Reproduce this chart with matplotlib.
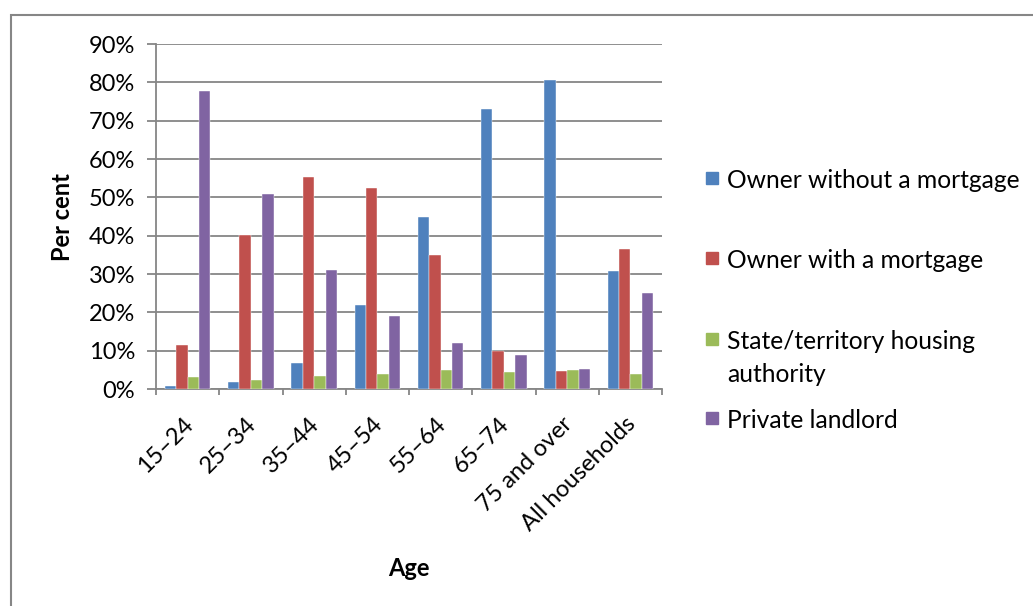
import numpy as np
import matplotlib
matplotlib.use("Agg")
import matplotlib.pyplot as plt
from matplotlib.patches import Rectangle

ages = ["15–24", "25–34", "35–44", "45–54", "55–64", "65–74",
        "75 and over", "All households"]
series_names = ["Owner without a mortgage", "Owner with a mortgage",
                "State/territory housing\nauthority", "Private landlord"]
no_mortgage = [0.7, 1.7, 6.8, 22.0, 44.9, 73.0, 80.5, 30.9]
with_mortgage = [11.6, 40.2, 55.3, 52.5, 35.0, 9.8, 4.8, 36.6]
state_housing = [3.1, 2.3, 3.5, 3.9, 4.9, 4.5, 4.9, 3.8]
private_landlord = [77.8, 51.0, 31.0, 19.1, 11.9, 8.9, 5.3, 25.0]
yticks = [0, 10, 20, 30, 40, 50, 60, 70, 80, 90]

colors = ["#4F81BD", "#C0504D", "#9BBB59", "#8064A2"]
grid_col = "#868686"

plt.rcParams['font.family'] = ['Lato', 'DejaVu Sans']

W, H = 1033, 606
fig = plt.figure(figsize=(W / 100, H / 100), dpi=100)
ax = fig.add_axes([156 / W, 1 - 389 / H, (662 - 156) / W, (389 - 44) / H])

# outer chart frame (runs off the right and bottom edge)
fig.patches.append(Rectangle((11 / W, -0.1), 1.2, 1 - 15 / H + 0.1,
                             transform=fig.transFigure, fill=False,
                             edgecolor=grid_col, linewidth=1.5))

all_vals = [no_mortgage, with_mortgage, state_housing, private_landlord]
x = np.arange(len(ages))
bw = 0.18
for i, vals in enumerate(all_vals):
    ax.bar(x + (i - 1.5) * bw, vals, width=bw, color=colors[i],
           edgecolor="white", linewidth=0.3, zorder=3)

ax.set_xlim(-0.5, len(ages) - 0.5)
ax.set_ylim(0, 90)
ax.set_yticks(yticks)
ax.set_yticklabels([f"{t}%" for t in yticks], fontsize=17)
ax.yaxis.grid(True, color=grid_col, linewidth=1.3, zorder=0)
ax.tick_params(axis='y', length=6.5, width=1.3, color=grid_col, pad=8.5)

ax.set_xticks(x + 0.03)
ax.set_xticklabels(ages, fontsize=17, rotation=45, ha='right',
                   va='center', rotation_mode='anchor')
ax.tick_params(axis='x', which='major', length=0, pad=23)
ax.set_xticks(np.arange(len(ages) + 1) - 0.5, minor=True)
ax.tick_params(axis='x', which='minor', length=4, width=1.3, color=grid_col)

for s in ['top', 'right']:
    ax.spines[s].set_visible(False)
for s in ['left', 'bottom']:
    ax.spines[s].set_color(grid_col)
    ax.spines[s].set_linewidth(1.3)

fig.text(62 / W, 1 - 217 / H, "Per cent", rotation=90, ha='center',
         va='center', fontsize=17, fontweight='bold')
fig.text(409 / W, 1 - 568 / H, "Age", ha='center', va='center',
         fontsize=17, fontweight='bold')

# legend drawn by hand to match the spread-out entries
leg_y = [178, 258, 339, 418]
for name, col, yy in zip(series_names, colors, leg_y):
    fig.patches.append(Rectangle((706 / W, 1 - (yy + 6) / H), 12 / W, 12 / H,
                                 transform=fig.transFigure, color=col))
    fig.text(727 / W, 1 - (yy - 9) / H, name, ha='left', va='top',
             fontsize=17.7, linespacing=1.5)

fig.savefig("out.png", dpi=100)
